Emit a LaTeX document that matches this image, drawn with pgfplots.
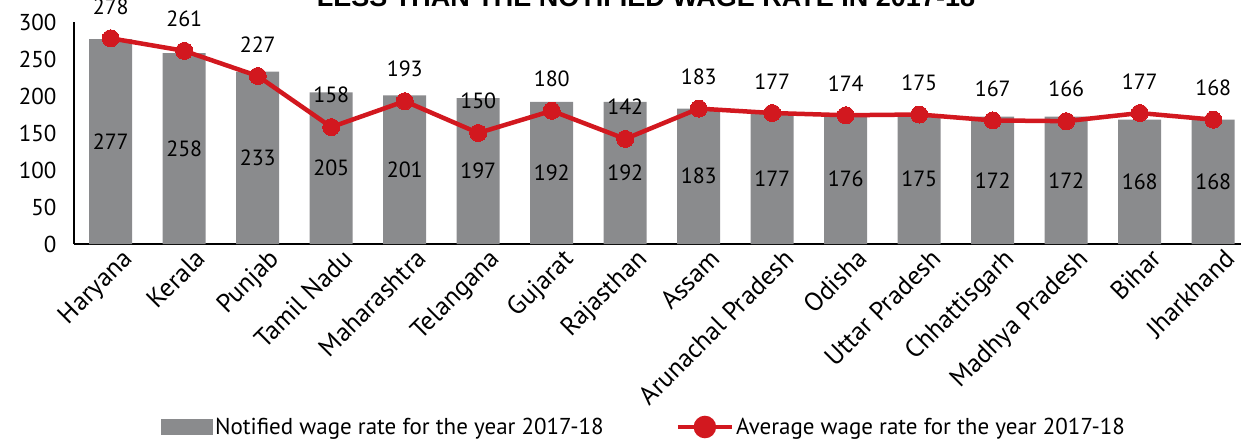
\documentclass[border=0pt]{standalone}
\usepackage{pgfplots}
\pgfplotsset{compat=1.18}
\usepackage{pgfplotstable}
\usepackage{fontspec}
\setmainfont{PT Sans}
\newfontfamily\titlefont{Liberation Sans}

\definecolor{bargray}{HTML}{8A8B8D}
\definecolor{linered}{HTML}{D2181F}

% state, notified rate (bars), average rate (line)
\pgfplotstableread{
x  notified average
0  277 278
1  258 261
2  233 227
3  205 158
4  201 193
5  197 150
6  192 180
7  192 142
8  183 183
9  177 177
10 176 174
11 175 175
12 172 167
13 172 166
14 168 177
15 168 168
}\wages

\begin{document}
\begin{tikzpicture}
\begin{axis}[
  name=ax,
  scale only axis,
  width=1176pt, height=222pt,
  xmin=-0.5, xmax=15.5,
  ymin=0, ymax=300,
  ytick={0,50,...,300},
  xtick=data,
  xticklabels={Haryana, Kerala, Punjab, Tamil Nadu, Maharashtra, Telangana, Gujarat, Rajasthan, Assam, Arunachal Pradesh, Odisha, Uttar Pradesh, Chhattisgarh, Madhya Pradesh, Bihar, Jharkhand},
  axis x line*=bottom, axis y line*=left,
  axis line style={line width=1.8pt, -},
  major tick length=0pt,
  yticklabel style={font=\fontsize{23}{26}\selectfont, xshift=-14pt},
  /pgf/number format/assume math mode=true,
  xticklabel style={font=\fontsize{26}{30}\selectfont, rotate=45, anchor=north east, xshift=8pt, yshift=-6pt},
  legend style={at={(axis description cs:0.5,0)}, anchor=center, yshift=-183pt, xshift=-18pt,
    draw=none, legend columns=2, font=\fontsize{23}{26}\selectfont,
    /tikz/every even column/.append style={column sep=70pt}},
]
\addplot[ybar, bar width=43pt, fill=bargray, draw=none,
  legend image code/.code={\fill[bargray] (-2pt,-8pt) rectangle (50pt,8pt);}]
  table[x=x, y=notified] {\wages};
\addlegendentry{Notified wage rate for the year 2017-18}
\addplot[linered, line width=4.5pt, mark=*, mark size=8.5pt,
  mark options={fill=linered, draw=linered, line width=0pt},
  nodes near coords,
  every node near coord/.style={black, anchor=south, inner sep=0pt, yshift=24pt, font=\fontsize{22}{26}\selectfont},
  legend image code/.code={\draw[linered, line width=4.5pt] (0pt,0pt) -- (54pt,0pt); \fill[linered] (27pt,0pt) circle (9pt);}]
  table[x=x, y=average] {\wages};
\addlegendentry{Average wage rate for the year 2017-18}
% bar values, centred in the bars
\addplot[draw=none, mark=none, nodes near coords, point meta=explicit,
  every node near coord/.style={black, anchor=center, inner sep=0pt, font=\fontsize{22}{26}\selectfont},
  forget plot]
  table[x=x, y expr=\thisrow{notified}/2, meta=notified] {\wages};
\end{axis}
\node[anchor=base, font=\titlefont\bfseries\fontsize{27}{30}\selectfont] at ([xshift=572pt, yshift=15pt]ax.north west)
  {LESS THAN THE NOTIFIED WAGE RATE IN 2017-18};
\pgfresetboundingbox
\path[use as bounding box] ([xshift=-74pt, yshift=-195pt]ax.south west) rectangle ([xshift=1167pt, yshift=22pt]ax.north west);
\end{tikzpicture}
\end{document}
